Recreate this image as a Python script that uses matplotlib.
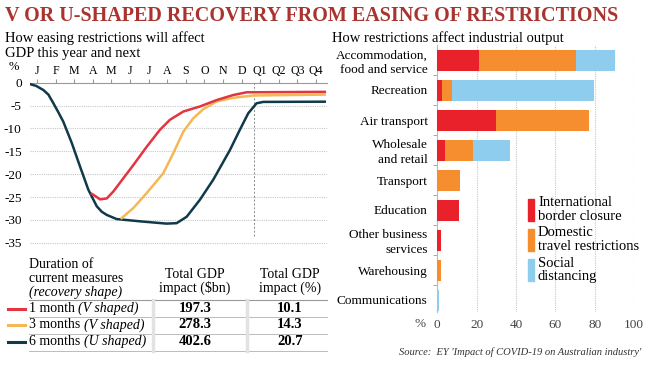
import matplotlib
matplotlib.use('Agg')
import matplotlib.pyplot as plt
from matplotlib.patches import Rectangle
from matplotlib.lines import Line2D

# ---- data: GDP impact curves (x = month index, J=0 ... Q4=15)
months = ['J', 'F', 'M', 'A', 'M', 'J', 'J', 'A', 'S', 'O', 'N', 'D', 'Q1', 'Q2', 'Q3', 'Q4']
gdp_ticks = [0, -5, -10, -15, -20, -25, -30, -35]

navy_x = [-0.38, -0.05, 0.34, 0.61, 0.88, 1.15, 1.41, 1.87, 2.31, 2.76, 3.21, 3.48, 3.75, 4.28,
          5.54, 6.97, 7.51, 8.05, 8.76, 9.48, 10.38, 10.91, 11.36, 11.81, 12.17, 15.48]
navy_y = [-0.3, -0.7, -1.6, -2.6, -4.5, -6.5, -8.5, -13.2, -18.3, -23.4, -27.0, -28.2, -28.9, -29.8,
          -30.3, -30.8, -30.7, -29.3, -25.6, -21.2, -14.7, -10.3, -6.7, -4.5, -4.2, -4.15]

red_x = [2.95, 3.21, 3.39, 3.75, 4.10, 4.64, 5.18, 5.90, 6.61, 7.15, 7.87, 8.76, 9.66, 10.55, 11.27, 15.48]
red_y = [-24.3, -25.0, -25.5, -25.3, -23.8, -20.9, -18.0, -14.0, -10.3, -8.1, -6.3, -5.2, -3.8, -2.7, -2.1, -2.0]

orange_x = [4.55, 5.18, 5.90, 6.79, 7.33, 7.87, 8.40, 8.94, 9.66, 10.55, 11.63, 15.48]
orange_y = [-29.6, -27.4, -24.1, -19.8, -15.4, -10.7, -7.8, -5.8, -4.1, -3.3, -2.8, -2.6]

scenario_names = ['1 month ', '3 months ', '6 months ']
scenario_shapes = ['(V shaped)', '(V shaped)', '(U shaped)']
impact_bn = ['197.3', '278.3', '402.6']
impact_pct = ['10.1', '14.3', '20.7']

# ---- data: industrial output
industries = ['Accommodation,\nfood and service', 'Recreation', 'Air transport',
              'Wholesale\nand retail', 'Transport', 'Education',
              'Other business\nservices', 'Warehousing', 'Communications']
intl = [21, 2.5, 30, 4, 0, 11, 2, 0, 0]
domestic = [49.5, 5, 47, 14, 11.5, 0, 0, 2, 0]
social = [20, 72, 0, 19, 0, 0, 0, 0, 0.8]
legend_labels = ['International\nborder closure', 'Domestic\ntravel restrictions', 'Social\ndistancing']

RED = '#e3353f'
ORANGE = '#f6b756'
NAVY = '#10394a'
BAR_RED = '#e8212b'
BAR_OR = '#f68d2e'
BAR_BL = '#8ecdee'
GRID = '#c8c8c8'
SERIF = 'Liberation Serif'

W, H = 649, 365
plt.rcParams['font.family'] = SERIF

def fx(x):
    return x / W

def fy(y):
    return 1 - y / H

fig = plt.figure(figsize=(6.49, 3.65), dpi=100)

# title and subtitles
fig.text(fx(5), fy(16), 'V OR U-SHAPED RECOVERY FROM EASING OF RESTRICTIONS',
         fontsize=14.5, fontweight='bold', color='#a9342f', va='center', ha='left')
fig.text(fx(5), fy(38), 'How easing restrictions will affect', fontsize=10.5, va='center')
fig.text(fx(5), fy(54), 'GDP this year and next', fontsize=10.5, va='center')
fig.text(fx(332), fy(38), 'How restrictions affect industrial output', fontsize=10.5, va='center')

# ---- left line chart
ax = fig.add_axes([fx(30), fy(246.5), fx(327) - fx(30), fy(82.7) - fy(246.5)])
ax.plot(navy_x, navy_y, color=NAVY, lw=1.8, zorder=3)
ax.plot(orange_x, orange_y, color=ORANGE, lw=1.8, zorder=4)
ax.plot(red_x, red_y, color=RED, lw=1.8, zorder=5)
ax.set_xlim(-0.38, 15.6)
ax.set_ylim(-35.8, 0)
ax.axvline(11.66, ymin=(35.8 - 33.5) / 35.8, ymax=1, color='#888888', lw=0.7, ls=(0, (2, 2)))
for g in gdp_ticks[1:]:
    ax.axhline(g, color=GRID, lw=0.8, ls=(0, (1, 1)), zorder=1)
for s in ['left', 'right', 'bottom']:
    ax.spines[s].set_visible(False)
ax.spines['top'].set_color('#999999')
ax.spines['top'].set_linewidth(0.8)
ax.xaxis.tick_top()
ax.set_xticks(range(len(months)))
ax.set_xticklabels(months, fontsize=8.6)
ax.tick_params(axis='x', length=3, color='#999999', pad=1)
ax.set_yticks(gdp_ticks)
ax.set_yticklabels([str(t) for t in gdp_ticks], fontsize=9.5)
ax.tick_params(axis='y', length=0, pad=6)
fig.text(fx(14), fy(67), '%', fontsize=9, ha='center', va='center')

# ---- table below the line chart
renderer = fig.canvas.get_renderer()
fig.text(fx(29), fy(265), 'Duration of', fontsize=10, va='center')
fig.text(fx(29), fy(278), 'current measures', fontsize=10, va='center')
fig.text(fx(29), fy(292), '(recovery shape)', fontsize=10, va='center', style='italic')
fig.text(fx(195), fy(275), 'Total GDP', fontsize=10, ha='center', va='center')
fig.text(fx(195), fy(288), 'impact ($bn)', fontsize=10, ha='center', va='center')
fig.text(fx(290), fy(275), 'Total GDP', fontsize=10, ha='center', va='center')
fig.text(fx(290), fy(288), 'impact (%)', fontsize=10, ha='center', va='center')
fig.add_artist(Line2D([fx(29), fx(327)], [fy(300), fy(300)], color='#999999', lw=0.8))
row_y = [308.5, 325, 341.5]
row_colors = [RED, ORANGE, NAVY]
for i in range(3):
    y = row_y[i]
    fig.add_artist(Line2D([fx(8), fx(25)], [fy(y), fy(y)], color=row_colors[i], lw=2.2))
    t = fig.text(fx(29), fy(y), scenario_names[i], fontsize=10, va='center')
    bb = t.get_window_extent(renderer)
    fig.text(bb.x1 / W, fy(y), scenario_shapes[i], fontsize=10, va='center', style='italic')
    fig.text(fx(195), fy(y), impact_bn[i], fontsize=10.5, fontweight='bold', ha='center', va='center')
    fig.text(fx(290), fy(y), impact_pct[i], fontsize=10.5, fontweight='bold', ha='center', va='center')
for ly in [317, 333.5, 350.5]:
    fig.add_artist(Line2D([fx(29), fx(327)], [fy(ly), fy(ly)], color='#bbbbbb', lw=0.7))
for vx in [153, 247]:
    fig.add_artist(Line2D([fx(vx), fx(vx)], [fy(300), fy(350.5)], color='#e2e2e2', lw=2.5))

# ---- right stacked bar chart
bx = fig.add_axes([fx(437.3), fy(312), fx(634) - fx(437.3), fy(45) - fy(312)])
pos = list(range(len(industries)))
left2 = [a + b for a, b in zip(intl, domestic)]
bx.barh(pos, intl, height=0.7, color=BAR_RED, zorder=3)
bx.barh(pos, domestic, left=intl, height=0.7, color=BAR_OR, zorder=3)
bx.barh(pos, social, left=left2, height=0.7, color=BAR_BL, zorder=3)
bx.set_xlim(0, 100)
bx.set_ylim(8.4, -0.5)
bx.set_xticks([0, 20, 40, 60, 80, 100])
bx.set_xticklabels(['0', '20', '40', '60', '80', '100'], fontsize=9.5, color='#444444')
bx.tick_params(axis='x', length=0, pad=5)
bx.xaxis.grid(True, color=GRID, lw=0.8, ls=(0, (1, 1)), zorder=0)
bx.set_yticks(pos)
bx.set_yticklabels(industries, fontsize=9.5, linespacing=1.3)
bx.set_yticks([p + 0.5 for p in pos[:-1]], minor=True)
bx.tick_params(axis='y', which='major', length=0, pad=7)
bx.tick_params(axis='y', which='minor', length=3, color='#999999')
for s in ['top', 'right', 'bottom']:
    bx.spines[s].set_visible(False)
bx.spines['left'].set_color('#bbbbbb')
bx.spines['left'].set_linewidth(0.8)
fig.text(fx(420), fy(324), '%', fontsize=9.5, ha='center', va='center', color='#444444')

# legend
leg_y = [209.5, 239.5, 270]
leg_colors = [BAR_RED, BAR_OR, BAR_BL]
for i in range(3):
    fig.add_artist(Rectangle((fx(528), fy(leg_y[i] + 11)), fx(6), (22 / H),
                             color=leg_colors[i], transform=fig.transFigure))
    fig.text(fx(538), fy(leg_y[i]), legend_labels[i], fontsize=10.5, va='center', linespacing=1.05)

fig.text(fx(641), fy(352), "Source:  EY 'Impact of COVID-19 on Australian industry'",
         fontsize=7.6, style='italic', ha='right', va='center', color='#333333')

fig.savefig('out.png', dpi=100)
